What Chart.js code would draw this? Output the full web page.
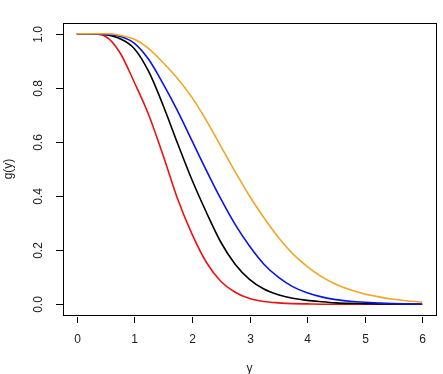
<!DOCTYPE html>
<html>
<head>
<meta charset="utf-8">
<script src="https://cdn.jsdelivr.net/npm/chart.js@4/dist/chart.umd.min.js"></script>
<style>
html,body{margin:0;padding:0;background:#fff;}
#wrap{width:443px;height:374px;}
</style>
</head>
<body>
<div id="wrap"><canvas id="c" width="443" height="374"></canvas></div>
<script>
const yValues = [0, 0.25, 0.5, 0.75, 1.0, 1.25, 1.5, 1.75, 2.0, 2.25, 2.5, 2.75, 3.0, 3.25, 3.5, 3.75, 4.0, 4.25, 4.5, 4.75, 5.0, 5.25, 5.5, 5.75, 6.0];
const redSeries    = [1, 1, 0.99, 0.93, 0.82, 0.70, 0.55, 0.39, 0.26, 0.155, 0.085, 0.044, 0.021, 0.01, 0.005, 0.002, 0.001, 0, 0, 0, 0, 0, 0, 0, 0];
const blackSeries  = [1, 1, 0.997, 0.982, 0.945, 0.86, 0.735, 0.595, 0.46, 0.34, 0.23, 0.148, 0.092, 0.056, 0.035, 0.022, 0.014, 0.009, 0.005, 0.003, 0.002, 0.001, 0.001, 0, 0];
const blueSeries   = [1, 1, 0.998, 0.99, 0.965, 0.905, 0.815, 0.715, 0.605, 0.495, 0.39, 0.295, 0.215, 0.148, 0.1, 0.065, 0.042, 0.027, 0.017, 0.011, 0.007, 0.004, 0.002, 0.001, 0];
const orangeSeries = [1, 1, 1, 0.995, 0.98, 0.945, 0.893, 0.835, 0.765, 0.68, 0.585, 0.49, 0.40, 0.32, 0.248, 0.187, 0.14, 0.102, 0.074, 0.053, 0.038, 0.027, 0.018, 0.012, 0.008];
const xTicks = [0, 1, 2, 3, 4, 5, 6];
const yTicks = [0.0, 0.2, 0.4, 0.6, 0.8, 1.0];
const xTitle = 'y';
const yTitle = 'g(y)';

function pts(arr){ return yValues.map((x,i)=>({x:x, y:arr[i]})); }

const FONT = '12px "Liberation Sans", Arial, sans-serif';

const rAxes = {
  id:'rAxes',
  afterDraw(chart){
    const ctx = chart.ctx, a = chart.chartArea;
    const xs = chart.scales.x, ys = chart.scales.y;
    ctx.save();
    ctx.strokeStyle = '#000';
    ctx.lineWidth = 1;
    ctx.strokeRect(Math.round(a.left)+0.5, Math.round(a.top)+0.5, Math.round(a.right-a.left), Math.round(a.bottom-a.top));
    ctx.fillStyle = '#222';
    ctx.font = FONT;
    ctx.textAlign = 'center'; ctx.textBaseline = 'middle';
    xTicks.forEach(v=>{
      const px = Math.round(xs.getPixelForValue(v))+0.5;
      ctx.beginPath(); ctx.moveTo(px, a.bottom+2); ctx.lineTo(px, a.bottom+8); ctx.stroke();
      ctx.fillText(String(v), px, a.bottom+25);
    });
    yTicks.forEach(v=>{
      const py = Math.round(ys.getPixelForValue(v))+0.5;
      ctx.beginPath(); ctx.moveTo(a.left, py); ctx.lineTo(a.left-7, py); ctx.stroke();
      ctx.save();
      ctx.translate(a.left-24, py);
      ctx.rotate(-Math.PI/2);
      ctx.fillText(v.toFixed(1), 0, 0);
      ctx.restore();
    });
    ctx.fillText(xTitle, (a.left+a.right)/2, a.bottom+54);
    ctx.save();
    ctx.translate(9, (a.top+a.bottom)/2);
    ctx.rotate(-Math.PI/2);
    ctx.fillText(yTitle, 0, 0);
    ctx.restore();
    ctx.restore();
  }
};

function ds(data, color){
  return {data: pts(data), borderColor: color, backgroundColor: color, borderWidth: 1.6,
          pointRadius: 0, fill: false, cubicInterpolationMode: 'monotone'};
}

new Chart(document.getElementById('c'), {
  type: 'line',
  data: { datasets: [
    ds(orangeSeries, '#f2a623'),
    ds(blueSeries, '#0a14e6'),
    ds(blackSeries, '#000000'),
    ds(redSeries, '#ee1111')
  ]},
  options: {
    responsive: false,
    animation: false,
    layout: { padding: { left: 63, top: 23, right: 7, bottom: 59 } },
    plugins: { legend: { display: false }, tooltip: { enabled: false } },
    scales: {
      x: { type: 'linear', min: -0.24, max: 6.24, display: false },
      y: { type: 'linear', min: -0.04, max: 1.04, display: false }
    }
  },
  plugins: [rAxes]
});
</script>
</body>
</html>
